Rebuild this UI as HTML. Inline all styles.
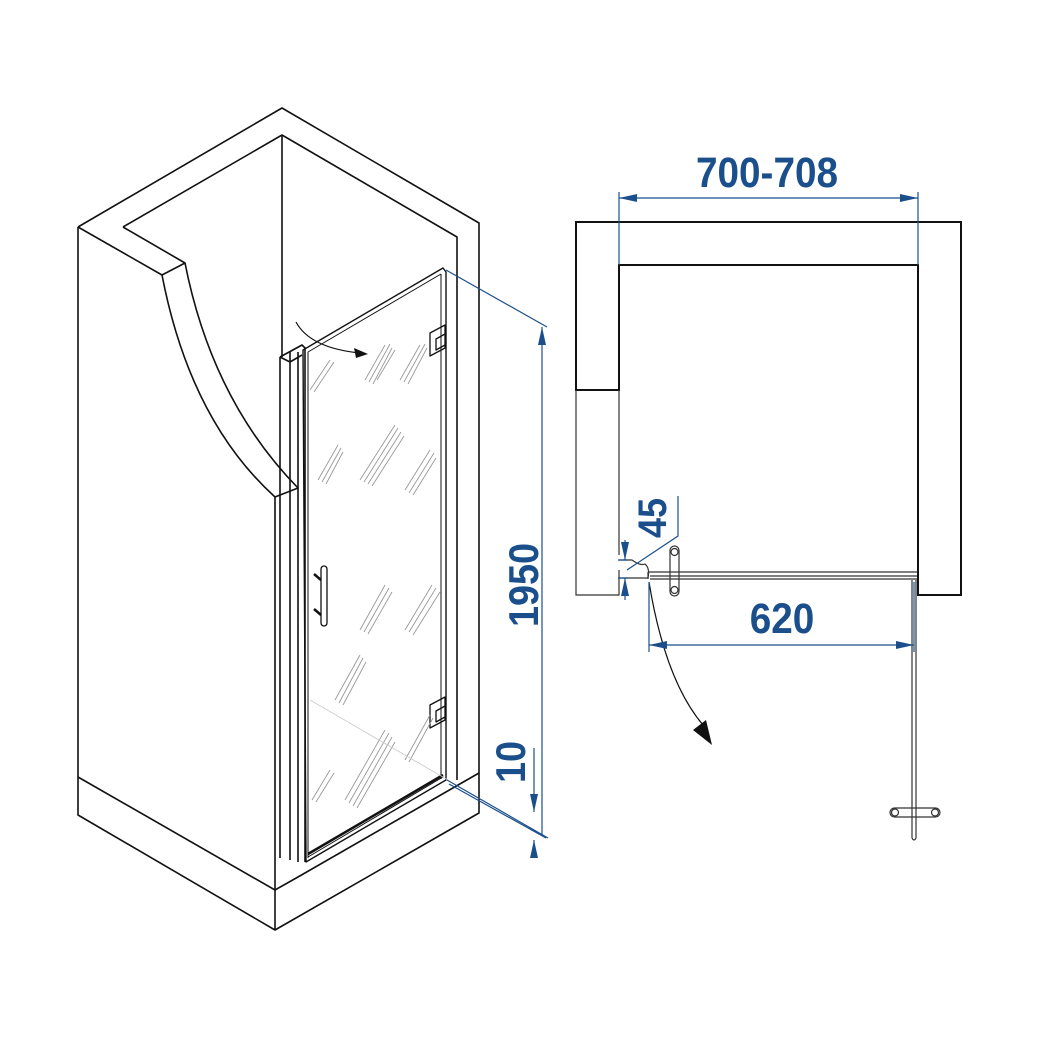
<!DOCTYPE html>
<html><head><meta charset="utf-8"><style>
html,body{margin:0;padding:0;background:#fff}
svg{display:block}
text{font-family:"Liberation Sans Narrow","Liberation Sans",sans-serif;font-weight:bold;fill:#1a4f8b}
</style></head><body>
<svg width="1040" height="1040" viewBox="0 0 1040 1040" xmlns="http://www.w3.org/2000/svg">
<defs>
<marker id="ab" viewBox="0 0 18 8" refX="18" refY="4" markerWidth="18" markerHeight="8" orient="auto-start-reverse" markerUnits="userSpaceOnUse"><path d="M0,0 L18,4 L0,8 z" fill="#1a4f8b"/></marker>
</defs>
<g fill="none" stroke="#111" stroke-width="1.6" stroke-linejoin="round">
<path d="M78,227 L282,108 L479,223 L479,773"/>
<path d="M123,227 L282,135 L457,237 L457,780"/>
<path d="M78,227 L162,275 L185,263 L123,227"/>
<path d="M282,135 L282,357"/>
<path d="M78,227 L78,815 L275,930 L479,813 L479,773"/>
<path d="M78,777 L275,890 L298,877 L479,773"/>
<path d="M275,890 L275,930"/>
<path d="M162,275 Q190,420 275,497 L275,890"/>
<path d="M185,263 Q212,400 298,488 L275,497"/>
<path d="M280,357 L302,345 L305,348 L305,862 M280,357 L280,858 M290,352 L290,860 M298,352 L298,862 M280,357 L290,362 L302,355"/>
<path d="M303,350 L443,268 L446,272 L446,780 L306,862 L303,350 Z" stroke-width="1.4"/>
<path d="M308,352 L441,274 M308,352 L308,858 M441,274 L441,779 M308,857 L443,777" stroke-width="1"/>
<path d="M308,854 L443,775" stroke-width="2.5"/>
<path d="M430,333 L445,325 L445,348 L430,356 Z M436,339 L445,334 L445,345 L436,350 Z" stroke-width="1.3"/>
<path d="M430,705 L445,697 L445,720 L430,728 Z M436,711 L445,706 L445,717 L436,722 Z" stroke-width="1.3"/>
<rect x="321" y="566" width="6" height="60" rx="3" stroke-width="1.3"/>
<path d="M314,574 L321,580 M314,609 L321,615" stroke-width="2.5"/>
<path d="M296,322 Q310,348 360,353" stroke-width="1.2"/>
</g>
<path d="M368,354 L354,348 L356,358 Z" fill="#111"/>
<g stroke="#999" stroke-width="0.9" fill="none">
<path d="M365,380 L385,345 M369,382 L390,344 M373,384 L392,348 M377,380 L395,350"/>
<path d="M400,380 L420,345 M404,382 L425,344 M408,384 L427,348"/>
<path d="M310,390 L330,360 M314,392 L334,362"/>
<path d="M360,480 L395,425 M364,482 L398,428 M368,484 L401,432 M372,486 L404,436"/>
<path d="M405,490 L430,450 M409,493 L434,453 M413,495 L436,458"/>
<path d="M318,480 L338,445 M322,482 L341,448 M326,484 L343,452"/>
<path d="M360,630 L385,585 M364,632 L389,588 M368,634 L392,592"/>
<path d="M405,630 L432,585 M409,632 L436,588 M413,635 L440,592"/>
<path d="M335,700 L360,655 M339,703 L363,658 M343,705 L366,662"/>
<path d="M345,800 L385,730 M349,803 L389,733 M353,806 L392,737 M357,808 L395,742"/>
<path d="M405,760 L430,715 M409,762 L433,718"/>
<path d="M312,800 L330,770 M316,802 L334,773"/>
<path d="M310,700 L448,780" stroke="#ccc"/>
</g>
<g stroke="#1a4f8b" stroke-width="1.2" fill="none">
<path d="M446,270 L547,327"/>
<path d="M542,835 L542,327" marker-end="url(#ab)"/>
<path d="M447,780 L548,838 M449,784 L546,838"/>
<path d="M534,748 L534,812" marker-end="url(#ab)"/>
<path d="M534,850 L534,840" marker-end="url(#ab)"/>
</g>
<text transform="translate(538,585) rotate(-90) scale(0.9,1)" font-size="42" text-anchor="middle">1950</text>
<text transform="translate(525,762) rotate(-90) scale(0.9,1)" font-size="42" text-anchor="middle">10</text>
<g fill="none" stroke="#111" stroke-width="2">
<path d="M576,222 L961,222 L961,595 L918,595 L918,265 L619,265 L619,390 L576,390 Z"/>
</g>
<g fill="none" stroke="#333" stroke-width="1.2">
<path d="M576,390 L576,595 L619,595 L619,570 M619,390 L619,555"/>
<path d="M619,560 L632,560 Q640,566 645,564 Q650,568 648,578 L619,578"/>
<path d="M648,572 L917,572 M650,576 L917,576 M650,579 L917,579 M648,572 L648,579"/>
<rect x="670" y="546" width="9" height="50" rx="4.5"/>
<circle cx="674.5" cy="552" r="3.5"/><circle cx="674.5" cy="590" r="3.5"/>
<path d="M912,580 L912,838 M916,580 L916,838 M912,838 Q914,842 916,838"/>
<rect x="890" y="808" width="50" height="9" rx="4.5"/>
<circle cx="895" cy="812.5" r="3.5"/><circle cx="935" cy="812.5" r="3.5"/>
<path d="M649,582 Q665,680 703,725" stroke="#111"/>
</g>
<path d="M712,745 L693,730 L706,720 Z" fill="#111"/>
<g stroke="#1a4f8b" stroke-width="1.2" fill="none">
<path d="M619,192 L619,265 M918,192 L918,265"/>
<path d="M619,198 L918,198" marker-start="url(#ab)" marker-end="url(#ab)"/>
<path d="M649,582 L649,652 M914,582 L914,652"/>
<path d="M649,645 L914,645" marker-start="url(#ab)" marker-end="url(#ab)"/>
<path d="M678,496 L678,536 L627,570"/>
<path d="M625,540 L625,560" marker-end="url(#ab)"/>
<path d="M625,600 L625,578" marker-end="url(#ab)"/>
<path d="M618,560 L628,560 M618,578 L628,578"/>
</g>
<text transform="translate(767,187) scale(0.9,1)" font-size="43" text-anchor="middle">700-708</text>
<text transform="translate(782,633) scale(0.9,1)" font-size="43" text-anchor="middle">620</text>
<text transform="translate(666,518) rotate(-90) scale(0.9,1)" font-size="40" text-anchor="middle">45</text>
</svg>
</body></html>
